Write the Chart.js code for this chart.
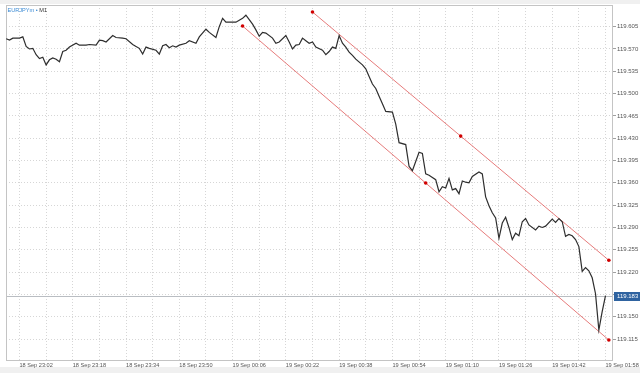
<!DOCTYPE html>
<html><head><meta charset="utf-8">
<style>html,body{margin:0;padding:0;background:#fff;overflow:hidden}canvas{display:block}</style>
<script src="https://cdn.jsdelivr.net/npm/chart.js@4.4.0/dist/chart.umd.min.js"></script>
</head><body>
<canvas id="c" width="640" height="373"></canvas>
<script>
// minute offsets from 18 Sep 23:02 (M1 bars)
const MINUTES = [
  -4,-3,-2,0,1,2,3,4,5,6,
  7,8,9,10,11,12,13,14,15,17,
  18,20,21,23,24,25,26,28,29,31,
  32,34,35,36,37,38,39,41,42,43,
  44,45,46,47,48,50,51,53,54,56,
  57,59,60,61,62,65,67,68,70,71,
  72,73,74,76,77,78,80,81,82,83,
  84,85,86,87,88,89,91,92,93,94,
  95,96,97,98,99,100,101,103,104,105,
  106,107,108,109,110,112,113,114,116,117,
  118,120,121,122,123,125,126,127,128,129,
  130,131,132,133,134,135,136,138,139,140,
  141,142,143,144,145,146,147,148,149,150,
  151,152,153,155,156,157,158,160,161,162,
  163,164,165,166,167,168,169,170,171,172,
  173,174,175,176
];
const PRICES = [
  119.586,119.584,119.587,119.587,119.589,119.574,119.570,119.571,119.561,119.555,
  119.557,119.545,119.553,119.556,119.554,119.550,119.566,119.568,119.573,119.579,
  119.576,119.576,119.577,119.576,119.584,119.583,119.581,119.591,119.588,119.587,
  119.586,119.577,119.574,119.571,119.562,119.573,119.571,119.568,119.562,119.575,
  119.577,119.572,119.575,119.573,119.576,119.579,119.583,119.579,119.589,119.601,
  119.596,119.588,119.605,119.618,119.612,119.612,119.618,119.623,119.609,119.600,
  119.590,119.596,119.595,119.587,119.579,119.581,119.591,119.581,119.570,119.576,
  119.577,119.587,119.583,119.579,119.581,119.573,119.568,119.561,119.566,119.573,
  119.571,119.591,119.579,119.573,119.565,119.560,119.554,119.545,119.539,119.527,
  119.515,119.508,119.496,119.484,119.472,119.471,119.452,119.423,119.420,119.386,
  119.379,119.408,119.406,119.374,119.372,119.365,119.346,119.354,119.352,119.367,
  119.349,119.351,119.343,119.363,119.361,119.360,119.370,119.377,119.374,119.338,
  119.324,119.313,119.305,119.273,119.297,119.306,119.290,119.271,119.281,119.277,
  119.299,119.304,119.294,119.286,119.292,119.290,119.292,119.303,119.298,119.304,
  119.299,119.276,119.279,119.277,119.271,119.260,119.221,119.227,119.222,119.211,
  119.186,119.129,119.158,119.183
];
// equidistant channel anchor points (minute, price)
const UPPER_X = [88, 132.5, 177];
const UPPER_Y = [119.628, 119.4333, 119.2385];
const LOWER_X = [67, 122, 177];
const LOWER_Y = [119.606, 119.3597, 119.1134];
const CURRENT_PRICE = 119.183;
const Y_TICKS = [119.115,119.150,119.185,119.220,119.255,119.290,119.325,119.360,119.395,119.430,119.465,119.500,119.535,119.570,119.605];
const Y_MIN = 119.0805, Y_MAX = 119.639;
const X_MIN = -4.05, X_MAX = 178.25;
const X_GRID_STEP = 8, X_LABEL_STEP = 16;
const X_TICK_LABELS = ['18 Sep 23:02','18 Sep 23:18','18 Sep 23:34','18 Sep 23:50','19 Sep 00:06','19 Sep 00:22','19 Sep 00:38','19 Sep 00:54','19 Sep 01:10','19 Sep 01:26','19 Sep 01:42','19 Sep 01:58'];
const SYMBOL = 'EURJPYm', TIMEFRAME = 'M1';

const FONT = 'Liberation Sans';
const gridColor = '#d6d6d6';

const bgPlugin = {
  id: 'bg',
  beforeDraw(chart) {
    const c = chart.ctx;
    c.save();
    c.fillStyle = '#ffffff';
    c.fillRect(0, 0, chart.width, chart.height);
    c.fillStyle = '#f0f0f0';
    c.fillRect(0, 0, chart.width, 4);
    c.fillRect(0, 367, chart.width, chart.height - 367);
    c.restore();
  },
  beforeDatasetsDraw(chart) {
    const c = chart.ctx, a = chart.chartArea, y = chart.scales.y;
    c.save();
    const py = Math.round(y.getPixelForValue(CURRENT_PRICE)) + 0.5;
    c.strokeStyle = '#b9bdc2';
    c.lineWidth = 1;
    c.beginPath(); c.moveTo(a.left, py); c.lineTo(a.right, py); c.stroke();
    c.strokeStyle = '#c4c4c4';
    c.strokeRect(a.left + 0.5, a.top + 0.5, a.right - a.left - 1, a.bottom - a.top - 1);
    c.restore();
  },
  afterDraw(chart) {
    const c = chart.ctx, a = chart.chartArea, y = chart.scales.y;
    c.save();
    const py = y.getPixelForValue(CURRENT_PRICE);
    c.fillStyle = '#2f63a0';
    c.fillRect(a.right + 1, Math.round(py) - 4, chart.width - a.right - 1, 9);
    c.fillStyle = '#ffffff';
    c.font = '6px "' + FONT + '"';
    c.textBaseline = 'middle';
    c.textAlign = 'left';
    c.fillText(CURRENT_PRICE.toFixed(3), a.right + 4, Math.round(py) + 0.5);
    c.font = '5.6px "' + FONT + '"';
    c.textBaseline = 'middle';
    c.fillStyle = '#3a8ad4';
    const t1 = SYMBOL + ' \u2022 ';
    c.fillText(t1, 7.5, 10);
    const w = c.measureText(t1).width;
    c.fillStyle = '#333333';
    c.fillText(TIMEFRAME, 7.5 + w, 10);
    c.restore();
  }
};

new Chart(document.getElementById('c'), {
  type: 'line',
  data: {
    datasets: [
      {
        data: MINUTES.map((m, i) => ({ x: m, y: PRICES[i] })),
        borderColor: '#2e2e2e', borderWidth: 1.2, pointRadius: 0, tension: 0, order: 1
      },
      {
        data: UPPER_X.map((m, i) => ({ x: m, y: UPPER_Y[i] })),
        borderColor: 'rgba(226,100,100,0.85)', borderWidth: 1, tension: 0,
        pointRadius: 1.8, pointBackgroundColor: '#d00000', pointBorderWidth: 0, order: 2
      },
      {
        data: LOWER_X.map((m, i) => ({ x: m, y: LOWER_Y[i] })),
        borderColor: 'rgba(226,100,100,0.85)', borderWidth: 1, tension: 0,
        pointRadius: 1.8, pointBackgroundColor: '#d00000', pointBorderWidth: 0, order: 2
      }
    ]
  },
  options: {
    responsive: false, animation: false, devicePixelRatio: 1,
    layout: { padding: { left: 6, top: 5, right: 0, bottom: 0 } },
    plugins: { legend: { display: false }, tooltip: { enabled: false } },
    scales: {
      x: {
        type: 'linear', min: X_MIN, max: X_MAX,
        afterBuildTicks(s) {
          const t = [];
          for (let i = 0; i < X_TICK_LABELS.length * 2 - 1; i++) t.push({ value: i * X_GRID_STEP });
          s.ticks = t;
        },
        afterFit(s) { s.height = 12; s.paddingLeft = 0; s.paddingRight = 0; },
        ticks: {
          autoSkip: false, maxRotation: 0, minRotation: 0, align: 'start', padding: 1,
          color: '#555', font: { family: FONT, size: 5.6 },
          callback(v) { return v % X_LABEL_STEP === 0 ? X_TICK_LABELS[v / X_LABEL_STEP] : ''; }
        },
        grid: { color: gridColor, borderDash: [1, 2], drawTicks: false, tickLength: 0 },
        border: { display: false, dash: [1, 2] }
      },
      y: {
        type: 'linear', position: 'right', min: Y_MIN, max: Y_MAX,
        afterBuildTicks(s) { s.ticks = Y_TICKS.map(v => ({ value: v })); },
        afterFit(s) { s.width = 27; },
        ticks: {
          padding: 1, color: '#555', font: { family: FONT, size: 6 },
          callback(v) { return Number(v).toFixed(3); }
        },
        grid: { color: gridColor, borderDash: [1, 2], drawTicks: true, tickLength: 3, tickColor: '#a0a0a0', tickBorderDash: [] },
        border: { display: false, dash: [1, 2] }
      }
    }
  },
  plugins: [bgPlugin]
});
</script>
</body></html>
